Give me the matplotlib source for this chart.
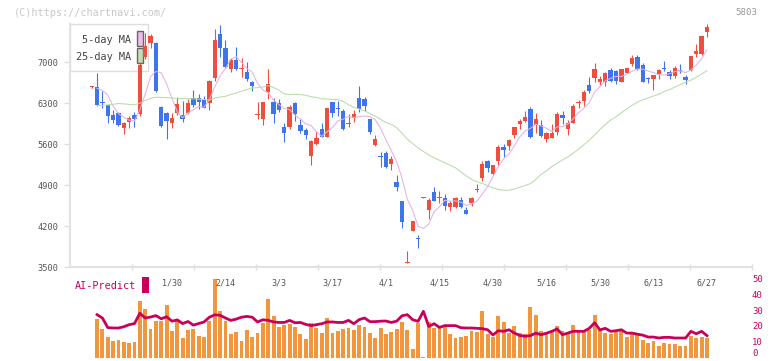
import numpy as np
import pandas as pd
import matplotlib
matplotlib.use("Agg")
import matplotlib.pyplot as plt
from matplotlib.patches import Rectangle

# daily candles (about 8 Jan .. 27 Jun)
opens = [6570, 6578, 6330, 6270, 6100, 6134, 5883, 5986, 6100, 6117,
         7096, 7335, 7329, 6242, 6134, 5969, 6140, 6100, 6140, 6390,
         6390, 6356, 6299, 6726, 7483, 7244, 6891, 7039, 6890, 6839,
         6658, 6105, 6031, 6498, 6321, 6305, 5895, 5895, 6305, 5929,
         5844, 5400, 5605, 5861, 5725, 6321, 6218, 6168, 5952, 6048,
         6384, 6373, 6031, 5588, 5400, 5446, 5263, 4950, 4632, 3568,
         4125, 3994, 4690, 4478, 4786, 4684, 4689, 4535, 4535, 4649,
         4478, 4592, 4826, 5029, 5315, 5086, 5320, 5554, 5576, 5765,
         5946, 5997, 6202, 5929, 5929, 5696, 5707, 5816, 6100, 5861,
         5969, 6311, 6344, 6606, 6737, 6657, 6657, 6868, 6851, 6669,
         6822, 6970, 7096, 6953, 6725, 6720, 6805, 6890, 6834, 6771,
         6867, 6749, 6868, 7147, 7136, 7523]
highs = [6590, 6822, 6509, 6280, 6185, 6157, 5986, 6082, 6145, 7010,
         7505, 7483, 7347, 6259, 6145, 6134, 6400, 6333, 6368, 6520,
         6458, 6424, 6690, 7562, 7636, 7380, 7067, 7255, 7079, 7010,
         6686, 6327, 6327, 6885, 6390, 6373, 5963, 6265, 6321, 6031,
         5883, 5673, 5827, 5963, 6225, 6330, 6338, 6196, 6111, 6185,
         6595, 6401, 6035, 5759, 5463, 5486, 5400, 5076, 4632, 3779,
         4290, 4051, 4694, 4678, 4877, 4803, 4757, 4638, 4706, 4706,
         4524, 4706, 4917, 5315, 5332, 5250, 5588, 5605, 5684, 5900,
         6031, 6168, 6230, 6134, 6014, 5805, 5946, 6157, 6168, 6014,
         6288, 6356, 6526, 6754, 6993, 6766, 6839, 6902, 6868, 6890,
         6910, 7130, 7130, 6982, 6754, 6790, 6880, 7022, 6868, 6936,
         6970, 6777, 7110, 7312, 7455, 7653]
lows = [6560, 6250, 6214, 5969, 5969, 5918, 5781, 5883, 5900, 6088,
        7050, 7250, 6497, 5900, 5684, 5872, 6100, 5975, 6111, 6242,
        6196, 6213, 6185, 6686, 7085, 6908, 6828, 6868, 6743, 6686,
        6515, 6031, 5934, 6379, 5969, 6145, 5639, 5861, 5997, 5799,
        5690, 5246, 5588, 5720, 5720, 6071, 6083, 5844, 5900, 5975,
        6157, 6174, 5782, 5571, 5218, 5201, 5156, 4808, 4176, 3568,
        4125, 3835, 4690, 4325, 4638, 4604, 4478, 4467, 4507, 4518,
        4410, 4552, 4792, 4973, 5133, 5070, 5252, 5389, 5503, 5713,
        5867, 5986, 5707, 5799, 5730, 5645, 5707, 5759, 5946, 5759,
        5957, 6213, 6253, 6481, 6663, 6618, 6601, 6669, 6623, 6657,
        6815, 6942, 6868, 6657, 6652, 6521, 6714, 6851, 6714, 6737,
        6811, 6623, 6856, 7096, 7130, 7438]
closes = [6580, 6270, 6300, 6088, 6020, 5929, 5963, 6054, 6031, 6953,
          7278, 7449, 6509, 5912, 5997, 6048, 6288, 6031, 6305, 6276,
          6327, 6225, 6680, 7380, 7238, 6925, 7039, 6891, 6900, 6709,
          6601, 6115, 6321, 6629, 6122, 6185, 5799, 6230, 6122, 5833,
          5759, 5656, 5707, 5725, 6219, 6128, 6208, 5861, 5962, 6117,
          6208, 6259, 5816, 5690, 5390, 5218, 5349, 4876, 4279, 3570,
          4290, 3984, 4694, 4649, 4638, 4694, 4552, 4604, 4678, 4535,
          4410, 4689, 4836, 5263, 5201, 5246, 5554, 5508, 5673, 5895,
          5997, 6065, 5725, 6031, 5748, 5799, 5793, 6117, 6054, 5957,
          6253, 6321, 6492, 6515, 6885, 6720, 6817, 6686, 6680, 6885,
          6908, 7073, 6880, 6669, 6715, 6783, 6868, 6880, 6771, 6902,
          6857, 6703, 7107, 7193, 7449, 7602]

# moving averages: the first days lean on prices left of the chart, so read them
ma5_head = [6555, 6520, 6440]
ma25_head = [6262, 6265, 6270, 6280, 6296, 6290, 6280, 6273, 6300, 6347,
             6385, 6404, 6400, 6395, 6390, 6381, 6380, 6378, 6376, 6370,
             6362, 6353, 6390]

# lower panel (right scale 0-50)
volume = [np.nan,
          24.6, 18.3, 13.2, 10.7, 11.3, 10.1, 9.4, 10.1, 35.9, 30.9,
          18.3, 23.3, 23.3, 33.4, 16.6, 23.3, 12.6, 17.6, 18.3, 13.9,
          13.2, 23.3, 49.7, 29.6, 23.3, 15.1, 16.4, 10.7, 17.6, 13.2,
          15.7, 22.0, 37.2, 26.4, 19.5, 20.8, 21.4, 19.5, 15.1, 12.0,
          22.0, 18.9, 15.7, 25.2, 15.7, 17.0, 18.3, 18.9, 17.6, 20.8,
          19.5, 15.7, 12.6, 18.9, 15.1, 16.4, 18.3, 22.7, 17.6, 5.7,
          22.0, 0.6, 22.7, 18.9, 19.5, 20.8, 15.1, 12.6, 13.2, 13.9,
          17.0, 16.4, 29.6, 15.1, 13.2, 26.4, 22.7, 15.7, 20.2, 15.7,
          15.1, 32.1, 27.1, 17.0, 15.1, 16.4, 20.2, 17.0, 15.1, 20.8,
          17.6, 17.6, 17.6, 27.1, 17.6, 15.7, 15.1, 16.4, 17.6, 13.2,
          15.7, 15.1, 11.3, 9.4, 10.7, 7.6, 9.4, 8.8, 8.8, 7.6,
          7.6, 13.9, 12.6, 13.2, 12.6]
ai_predict = [np.nan,
              27.1, 25.0, 19.0, 18.7, 18.7, 19.5, 20.8, 21.5, 28.0, 25.0,
              25.6, 26.5, 24.5, 25.8, 23.0, 23.8, 21.5, 22.8, 20.5, 21.5,
              22.5, 25.5, 27.0, 26.7, 25.0, 23.5, 24.3, 25.5, 26.0, 25.5,
              22.5, 23.9, 23.5, 22.5, 22.2, 22.2, 23.5, 22.0, 22.2, 21.0,
              20.2, 20.8, 21.4, 22.5, 22.5, 22.2, 22.2, 23.5, 21.4, 24.0,
              25.0, 22.7, 22.7, 23.0, 23.1, 22.2, 23.0, 26.4, 27.1, 23.9,
              22.9, 29.2, 19.7, 21.4, 19.1, 20.2, 20.2, 20.2, 18.9, 18.7,
              18.7, 18.5, 18.3, 17.6, 14.3, 17.0, 16.6, 17.6, 15.5, 14.0,
              13.5, 13.9, 15.5, 14.5, 15.4, 16.6, 18.1, 14.5, 15.5, 16.6,
              16.6, 16.6, 18.5, 22.0, 17.5, 18.5, 16.6, 17.0, 17.6, 15.5,
              15.5, 14.8, 14.2, 13.0, 13.0, 12.4, 12.8, 12.8, 12.4, 12.4,
              12.4, 16.6, 15.1, 16.6, 13.9]

date_labels = ["1/30", "2/14", "3/3", "3/17", "4/1", "4/15",
               "4/30", "5/16", "5/30", "6/13", "6/27"]
date_pos = [15, 25, 35, 45, 55, 65, 75, 85, 95, 105, 115]
price_ticks = [3500, 4200, 4900, 5600, 6300, 7000]

UP = "#f04e3c"
DOWN = "#3e74ec"
MAG = "#c8005a"
MONO = "DejaVu Sans Mono"

W, H = 772, 361
fig = plt.figure(figsize=(W / 100, H / 100), dpi=100)


def fx(px):
    return px / W


def fy(py):
    return 1 - py / H


idx = np.arange(len(closes))
cl = pd.Series(closes, dtype=float)
ma5 = cl.rolling(5).mean()
ma5.iloc[0] = np.nan
ma5.iloc[1:4] = ma5_head
ma25 = cl.rolling(25).mean()
ma25.iloc[0] = np.nan
ma25.iloc[1:24] = ma25_head

xl, xr = -4.056, 123.42

# main price panel
ax = fig.add_axes([fx(70), fy(267.3), fx(682), (267.3 - 24) / H])
ax.set_xlim(xl, xr)
ax.set_ylim(3500, 7653)

for i in idx:
    o, h, l, c = opens[i], highs[i], lows[i], closes[i]
    col = UP if c >= o else DOWN
    ax.vlines(i, l, h, color=col, lw=0.8, zorder=3)
    lo = min(o, c)
    ht = max(abs(c - o), 17)
    ax.bar(i, ht, bottom=lo, width=0.82, color=col, lw=0, zorder=4)

ax.plot(idx, ma5, color="#e6b0e6", lw=0.75, zorder=5)
ax.plot(idx, ma25, color="#b8dca8", lw=0.75, zorder=5)

for s in ["top", "right"]:
    ax.spines[s].set_visible(False)
for s in ["left", "bottom"]:
    ax.spines[s].set_color("#e2e2e2")
    ax.spines[s].set_linewidth(1.5)
ax.set_yticks(price_ticks)
ax.set_yticklabels([str(t) for t in price_ticks], fontsize=6.2,
                   family=MONO, color="#555555")
ax.tick_params(axis="y", direction="out", length=4.5, width=1,
               color="#dddddd", pad=4)
ax.set_xticks(np.linspace(xl, xr, 12)[1:])
ax.set_xticklabels([])
ax.tick_params(axis="x", direction="inout", length=4, width=1,
               color="#dddddd")

for lab, p in zip(date_labels, date_pos):
    ax.text(p, 3500 - (282.5 - 267.3) * 17.07, lab, fontsize=6,
            family=MONO, color="#555555", ha="center", va="center",
            clip_on=False)

# legend box
fig.patches.append(Rectangle((fx(70), fy(71)), fx(78), 47 / H,
                             transform=fig.transFigure, fc="white",
                             ec="#dddddd", lw=1, zorder=0))
ax.set_zorder(2)
ax.patch.set_alpha(0)
fig.text(fx(131), fy(40), "5-day MA", fontsize=7.4, family=MONO,
         color="#444444", ha="right", va="center")
fig.text(fx(131), fy(57), "25-day MA", fontsize=7.4, family=MONO,
         color="#444444", ha="right", va="center")
fig.patches.append(Rectangle((fx(136.5), fy(46.3)), fx(6), 15 / H,
                             transform=fig.transFigure, fc="#ecbcec",
                             ec="#666666", lw=1))
fig.patches.append(Rectangle((fx(136.5), fy(63.3)), fx(6), 15 / H,
                             transform=fig.transFigure, fc="#c0e0b4",
                             ec="#666666", lw=1))

fig.text(fx(14), fy(12.5), "(C)https://chartnavi.com/", fontsize=7.3,
         family=MONO, color="#c8c8c8", va="center")
fig.text(fx(757), fy(12.5), "5803", fontsize=6.6, family=MONO,
         color="#999999", va="center", ha="right")

# lower panel
ax2 = fig.add_axes([fx(70), fy(357.7), fx(682), (357.7 - 278.3) / H])
ax2.set_xlim(xl, xr)
ax2.set_ylim(0, 50)
ax2.bar(idx, volume, width=0.72, color="#f0963c", lw=0)
ax2.plot(idx, ai_predict, color=MAG, lw=2)
for s in ax2.spines.values():
    s.set_visible(False)
ax2.set_xticks([])
ax2.yaxis.tick_right()
ax2.set_yticks([0, 10, 20, 30, 40, 50])
ax2.set_yticklabels(["0", "10", "20", "30", "40", "50"], fontsize=6.5,
                    family=MONO, color=MAG)
ax2.tick_params(axis="y", length=0, pad=0)
# keep the "0" inside the picture
zero_lab = ax2.get_yticklabels()[0]
zero_lab.set_va("bottom")
zero_lab.set_y(0)

fig.text(fx(75), fy(286), "AI-Predict", fontsize=7.3, family=MONO,
         color=MAG, va="center")
fig.patches.append(Rectangle((fx(142), fy(292.7)), fx(6.5), 16 / H,
                             transform=fig.transFigure, fc=MAG, lw=0))

fig.savefig("out.png", dpi=100)
